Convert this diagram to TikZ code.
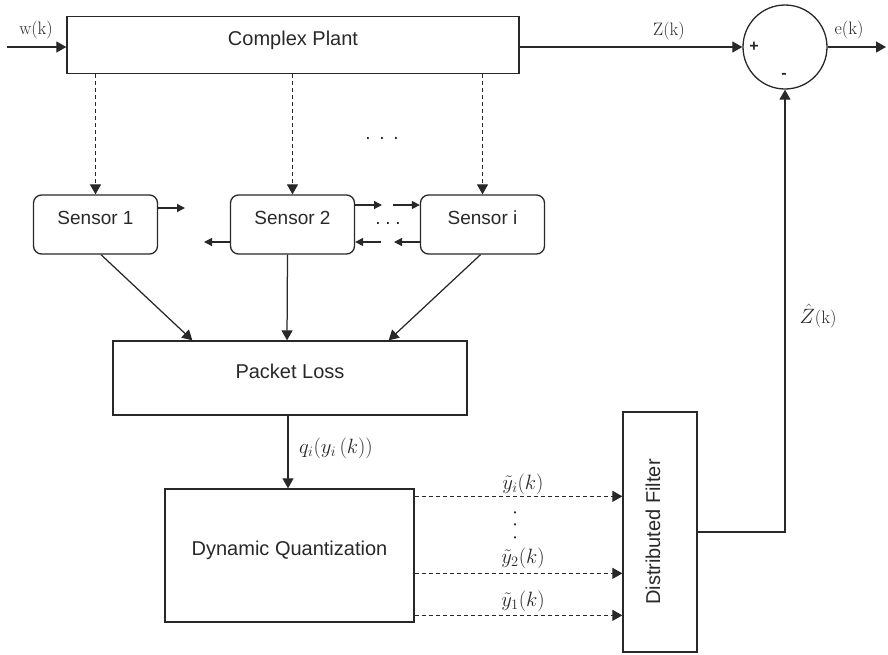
\documentclass[tikz,border=0pt]{standalone}
\usepackage{fontspec}
\newfontfamily\arialf{Liberation Sans}
\usetikzlibrary{arrows.meta,calc}
\definecolor{ink}{RGB}{40,40,40}
\tikzset{
  blk/.style={draw=ink, line width=1.3pt, rectangle, inner sep=0pt, text=ink,
    font=\arialf\fontsize{20}{24}\selectfont, text height=14pt, text depth=14pt},
  sens/.style={blk, rounded corners=8pt, minimum width=124pt, minimum height=59pt,
    font=\arialf\fontsize{19}{22}\selectfont},
  mlabel/.style={font=\fontsize{18}{21}\selectfont, text=ink, inner sep=0pt},
  ylabel/.style={font=\fontsize{20}{23}\selectfont, text=ink, inner sep=0pt},
  sign/.style={font=\arialf\bfseries\fontsize{16}{19}\selectfont, text=ink, inner sep=0pt},
  dotsnode/.style={font=\arialf\fontsize{19}{22}\selectfont, text=ink, inner sep=0pt},
  arr/.style={draw=ink, line width=1.25pt, -{Triangle[length=10pt,width=11pt]}},
  sarr/.style={draw=ink, line width=1.25pt, -{Triangle[length=8pt,width=8pt]}},
  darr/.style={arr, dash pattern=on 4pt off 3pt},
}
\begin{document}
\begin{tikzpicture}[x=1pt,y=-1pt]
\useasboundingbox (0,0) rectangle (888,654);

% blocks
\node[blk, minimum width=452pt, minimum height=57pt] (plant) at (293,45) {Complex Plant};
\node[draw=ink, line width=1.3pt, circle, minimum size=84pt, inner sep=0pt] (sum) at (785,47) {};
\node[sign] (plus) at (754,47) {+};
\node[sign] (minus) at (784,76) {-};

\node[sens] (s1) at (95.5,224.5) {Sensor 1};
\node[sens] (s2) at (292.5,224.5) {Sensor 2};
\node[sens] (si) at (482.5,224.5) {Sensor i};

\node[blk, minimum width=354pt, minimum height=74pt] (pl) at (290,378) {Packet Loss};
\node[blk, minimum width=249pt, minimum height=133pt, text height=11pt, text depth=11pt] (dq) at (289.5,555.5) {Dynamic Quantization};
\node[blk, minimum width=240pt, minimum height=74pt, rotate=90, text height=16pt, text depth=16pt] (filter) at (660,532) {Distributed Filter};

% input / output
\coordinate (win) at (7,47);
\draw[arr] (win) -- (plant.west |- win);
\node[mlabel] (wlbl) at (36,30) {w(k)};
\draw[arr] (plant.east |- sum) -- (sum.west);
\node[mlabel] (zlbl) at (669,31) {Z(k)};
\coordinate (eout) at (886,47);
\draw[arr] (sum.east) -- (eout);
\node[mlabel] (elbl) at (849,30) {e(k)};

% plant to sensors
\draw[darr] (plant.south -| s1.north) -- (s1.north);
\draw[darr] (plant.south -| s2.north) -- (s2.north);
\draw[darr] (plant.south -| si.north) -- (si.north);
\node[dotsnode] (dotstop) at (382,138) {.\hspace{8.7pt}.\hspace{8.7pt}.};

% sensor interconnections
\coordinate (s1r) at (185,208);
\draw[sarr] (s1.east |- s1r) -- (s1r);
\coordinate (s2l) at (204,242);
\draw[sarr] (s2.west |- s2l) -- (s2l);
\coordinate (s2r) at (382,205);
\draw[sarr] (s2.east |- s2r) -- (s2r);
\coordinate (sil) at (393,205);
\draw[sarr] (sil) -- (si.west |- sil);
\coordinate (s2rb) at (381,242);
\draw[sarr] (s2rb) -- (s2.east |- s2rb);
\coordinate (silb) at (394,242);
\draw[sarr] (si.west |- silb) -- (silb);
\node[dotsnode] (dotsmid) at (388,223) {.\hspace{4.7pt}.\hspace{4.7pt}.};

% sensors to packet loss
\draw[arr] ($(s1.south)+(5.5,0)$) -- ($(pl.north west)+(80,0)$);
\draw[arr] ($(s2.south)+(-5,0)$) -- ($(pl.north)+(-3,0)$);
\draw[arr] ($(si.south)+(-2,0)$) -- ($(pl.north east)+(-79,0)$);

% packet loss to quantization
\draw[arr] ($(pl.south)+(-2,0)$) -- ($(dq.north)+(-1.5,0)$);
\node[ylabel] (qlbl) at (336,448) {$q_i(y_i\,(k))$};

% quantization to filter
\coordinate (yi) at ($(dq.north east)+(0,8)$);
\coordinate (y2) at ($(dq.north east)+(0,85)$);
\coordinate (y1) at ($(dq.north east)+(0,127)$);
\draw[darr] (yi) -- (filter.north |- yi);
\draw[darr] (y2) -- (filter.north |- y2);
\draw[darr] (y1) -- (filter.north |- y1);
\node[ylabel] (yilbl) at (523,484) {$\tilde{y}_i(k)$};
\node[dotsnode, rotate=90] (dotsv) at (515,525) {.\hspace{7.3pt}.\hspace{7.3pt}.};
\node[ylabel] (y2lbl) at (523,558) {$\tilde{y}_2(k)$};
\node[ylabel] (y1lbl) at (523,601) {$\tilde{y}_1(k)$};

% feedback
\draw[arr] (filter.south) -| (sum.south);
\node[ylabel] (zhlbl) at (818,316) {$\hat{Z}$\fontsize{18}{21}\selectfont(k)};
\end{tikzpicture}
\end{document}
